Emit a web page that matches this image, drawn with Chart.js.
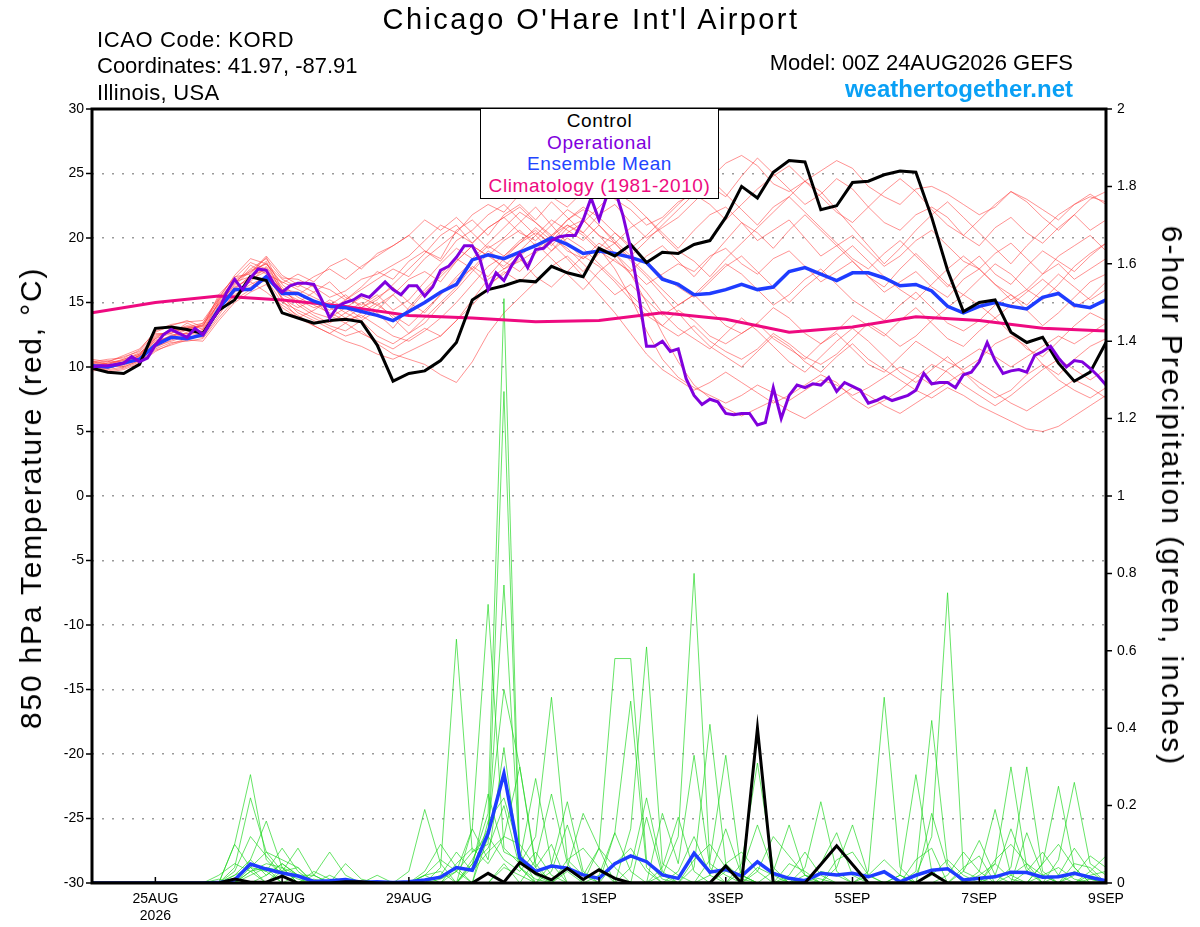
<!DOCTYPE html>
<html>
<head>
<meta charset="utf-8">
<script src="https://cdn.jsdelivr.net/npm/chart.js@4.4.1/dist/chart.umd.min.js"></script>
<style>
body { margin: 0; background: #fff; font-family: "Liberation Sans", Arial, sans-serif; }
#wrap { position: relative; width: 1200px; height: 927px; overflow: hidden; }
#wrap canvas { position: absolute; left: 0; top: 0; }
.t { position: absolute; white-space: nowrap; color: #000; }
#legend { position: absolute; left: 480px; top: 108px; width: 237px; height: 88px; background: #fff;
  border: 1.5px solid #000; text-align: center; font-size: 19px; line-height: 21.5px; letter-spacing: 0.6px; padding-top: 1px; }
</style>
</head>
<body>
<div id="wrap">
  <canvas id="chart" width="1200" height="927"></canvas>
  <div class="t" style="left:0;width:1182px;text-align:center;top:3px;font-size:29px;line-height:32px;letter-spacing:2.4px;">Chicago O'Hare Int'l Airport</div>
  <div class="t" style="left:97px;top:28px;font-size:22px;line-height:24px;letter-spacing:0.6px;">ICAO Code: KORD</div>
  <div class="t" style="left:97px;top:54px;font-size:22px;line-height:24px;">Coordinates: 41.97, -87.91</div>
  <div class="t" style="left:97px;top:81px;font-size:22px;line-height:24px;letter-spacing:0.3px;">Illinois, USA</div>
  <div class="t" style="right:127px;top:51px;font-size:22px;line-height:24px;">Model: 00Z 24AUG2026 GEFS</div>
  <div class="t" style="right:127px;top:75px;font-size:24px;line-height:28px;font-weight:bold;color:#0aa0f5;">weathertogether.net</div>
  <div class="t" style="left:31px;top:498px;transform:translate(-50%,-50%) rotate(-90deg);font-size:30px;letter-spacing:1.8px;">850 hPa Temperature (red, °C)</div>
  <div class="t" style="left:1172px;top:496px;transform:translate(-50%,-50%) rotate(90deg);font-size:30px;letter-spacing:2px;">6-hour Precipitation (green, inches)</div>
  <div id="legend">
    <div style="color:#000">Control</div>
    <div style="color:#8000dd">Operational</div>
    <div style="color:#2244ff">Ensemble Mean</div>
    <div style="color:#ee0a80">Climatology (1981-2010)</div>
  </div>
</div>
<script>
// forecast hours run 0..384 (00Z 24AUG to 00Z 9SEP); members are 6-hourly, operational 3-hourly
const tickHours = [24, 72, 120, 192, 240, 288, 336, 384];
const tickLabels = [['25AUG', '2026'], '27AUG', '29AUG', '1SEP', '3SEP', '5SEP', '7SEP', '9SEP'];

// 850 hPa temperature (C)
const controlTemp = [9.9,9.6,9.5,10.2,13.0,13.1,12.9,12.6,14.4,15.2,17.0,16.7,14.2,13.8,13.4,13.6,13.7,13.5,11.7,8.9,9.5,9.7,10.5,11.9,15.2,16.0,16.3,16.7,16.6,17.8,17.3,17.0,19.2,18.6,19.5,18.1,18.9,18.8,19.5,19.8,21.6,24.0,23.1,25.1,26.0,25.9,22.2,22.5,24.3,24.4,24.9,25.2,25.1,21.6,17.5,14.3,15.0,15.2,12.7,11.9,12.3,10.3,8.9,9.6,11.9];
const meanTemp = [10.1,10.0,10.3,10.6,11.7,12.3,12.2,12.5,14.5,16.0,16.0,17.0,15.7,15.7,15.1,14.7,14.6,14.3,14.0,13.6,14.3,15.0,15.8,16.4,18.3,18.7,18.4,18.9,19.4,20.0,19.5,18.8,19.0,18.8,18.5,18.1,16.8,16.4,15.6,15.7,16.0,16.4,16.0,16.2,17.4,17.7,17.2,16.7,17.3,17.3,16.9,16.3,16.4,15.9,14.7,14.2,14.7,15.0,14.7,14.5,15.4,15.7,14.8,14.6,15.2];
const operTemp = [10.0,10.1,10.1,10.2,10.3,10.8,10.4,10.7,11.7,12.5,
  12.9,12.6,12.3,13.0,12.5,13.5,14.4,15.8,16.8,16.0,
  16.9,17.6,17.5,16.4,15.8,16.3,16.5,16.5,16.4,15.2,
  13.8,14.7,15.0,15.2,15.6,15.4,16.0,16.6,16.0,15.6,
  16.3,16.3,15.5,16.2,17.5,17.8,18.5,19.4,19.4,18.3,
  16.0,17.3,16.7,17.9,18.8,17.7,19.1,19.2,19.8,20.1,
  20.2,20.2,21.4,23.1,21.4,23.3,23.8,21.8,19.2,15.7,
  11.6,11.6,12.0,11.2,11.4,9.1,7.8,7.1,7.5,7.3,
  6.4,6.3,6.4,6.4,5.5,5.7,8.4,6.0,7.8,8.6,
  8.4,8.7,8.6,9.2,8.1,8.8,8.5,8.2,7.2,7.4,
  7.7,7.4,7.6,7.8,8.2,9.5,8.7,8.8,8.8,8.4,
  9.4,9.6,10.4,11.9,10.5,9.5,9.7,9.8,9.6,10.9,
  11.2,11.6,10.7,10.0,10.5,10.4,9.9,9.3,8.6];
// daily climatology
const climTemp = [14.2,15.0,15.5,15.2,14.7,14.0,13.8,13.5,13.6,14.2,13.7,12.7,13.1,13.9,13.6,13.0,12.8];

const r01 = [10.0,10.1,10.4,10.9,12.4,12.8,13.2,13.0,15.0,16.5,17.6,18.4,16.9,16.8,16.2,15.4,15.9,16.8,17.2,17.9,18.6,19.8,21.0,20.4,21.8,22.6,22.0,23.4,24.0,23.2,22.4,23.6,24.2,23.0,22.2,21.0,21.6,22.8,23.4,24.6,25.8,26.4,25.6,24.2,23.6,24.4,25.2,26.0,25.4,24.0,23.2,22.6,23.8,24.0,23.4,22.6,21.8,22.4,23.6,23.0,22.2,21.4,22.6,23.2,22.8];
const r02 = [10.5,10.2,10.6,11.0,12.2,13.0,12.8,13.4,15.4,17.0,17.2,18.5,15.9,15.6,16.4,16.0,15.2,16.2,17.4,16.8,18.2,19.0,18.4,20.6,21.4,20.2,21.8,22.6,21.4,22.8,21.6,20.4,21.8,22.6,21.2,20.0,20.8,21.6,22.8,24.0,23.2,24.8,26.2,25.0,23.8,22.6,23.4,24.6,23.8,22.4,21.2,20.6,21.8,22.4,21.6,20.2,19.4,20.8,21.6,20.4,19.6,20.8,21.8,20.6,21.4];
const r03 = [10.2,10.4,10.8,11.2,12.6,12.6,13.4,12.9,14.8,16.4,17.9,17.2,16.6,16.0,15.4,14.8,15.6,14.6,15.2,16.4,17.6,18.8,20.2,21.0,19.6,20.8,21.6,20.4,19.8,21.0,22.2,21.4,20.2,19.6,20.8,21.6,20.4,19.2,20.6,21.8,22.4,21.2,19.8,20.6,21.4,20.0,18.6,19.4,20.2,19.0,17.8,18.6,19.8,20.6,19.4,18.2,17.6,18.8,19.6,18.4,17.2,18.6,19.4,20.2,19.0];
const r04 = [10.3,10.0,10.2,10.6,11.8,12.5,12.6,12.9,14.6,16.2,16.8,17.4,15.8,15.2,14.6,15.0,14.2,13.6,14.4,15.6,16.8,17.4,16.6,18.2,19.4,18.6,19.8,20.6,19.4,20.2,19.0,18.4,19.6,18.8,17.6,16.4,17.2,18.0,17.4,18.6,19.2,18.0,17.2,18.4,19.0,17.8,16.6,17.4,18.2,17.0,15.8,16.6,17.4,16.2,15.4,16.8,17.6,16.4,15.2,16.0,17.2,18.0,16.8,17.6,18.4];
const r05 = [9.8,9.9,10.2,10.8,11.6,12.0,12.4,12.3,14.0,15.8,16.6,17.8,16.2,14.8,14.0,13.4,14.2,15.0,14.2,13.0,14.6,16.0,17.2,18.4,17.6,19.0,18.2,17.4,18.8,20.0,19.2,18.0,16.8,15.6,16.4,15.2,14.0,14.8,15.6,16.8,18.0,17.2,16.0,14.8,15.6,16.8,17.6,16.4,15.2,14.4,13.6,14.8,15.8,14.6,13.4,12.8,13.6,14.8,15.6,14.4,13.2,14.2,15.4,16.6,17.2];
const r06 = [10.1,9.7,9.9,10.4,11.4,11.9,12.0,12.2,13.8,15.2,16.0,16.8,15.0,14.4,13.8,13.2,12.8,13.6,12.4,11.8,12.6,13.8,15.0,16.2,17.8,17.0,18.4,19.6,20.8,19.8,21.0,20.2,19.0,18.2,17.4,18.6,19.4,18.2,17.0,18.4,19.8,21.2,20.4,19.2,20.6,21.8,20.6,19.4,18.2,17.0,16.2,17.6,18.8,17.6,16.4,15.6,16.8,18.0,17.2,16.0,15.2,16.4,17.8,18.8,19.6];
const r07 = [10.4,10.2,10.0,10.5,11.9,12.3,12.9,12.6,14.2,15.6,16.4,17.0,15.4,14.2,13.6,13.0,12.4,12.8,11.8,11.0,10.6,10.2,9.4,8.8,10.4,12.6,14.2,15.4,16.6,17.8,18.6,17.4,18.8,19.6,18.4,17.2,16.0,14.8,15.6,14.4,13.2,12.6,13.4,14.6,13.8,12.6,11.8,12.8,14.0,13.2,12.4,13.6,14.6,13.4,12.2,11.6,12.8,13.8,12.6,11.4,10.8,12.0,13.2,14.2,13.6];
const r08 = [9.9,9.6,9.8,10.3,11.2,11.8,12.2,12.4,14.4,15.9,16.6,15.8,14.8,14.0,13.2,12.6,12.0,11.6,11.0,10.6,11.2,11.8,12.4,13.6,15.2,16.8,17.6,18.2,19.0,20.2,21.0,20.4,19.2,17.6,15.4,12.8,10.6,9.2,8.4,7.8,7.2,7.8,8.6,8.0,7.4,8.2,9.0,8.6,7.8,8.4,9.2,10.0,9.4,8.6,9.8,10.6,11.4,10.8,10.0,10.8,11.6,12.4,11.8,12.6,13.4];
const r09 = [10.0,10.3,10.6,11.1,12.0,12.4,13.0,13.2,15.2,16.8,17.4,18.0,16.4,15.4,14.8,14.2,13.6,14.0,13.2,12.4,12.0,12.8,13.8,15.0,16.4,17.8,18.6,19.8,20.6,19.4,20.8,21.4,20.2,18.8,17.2,15.0,12.6,10.4,8.6,7.6,6.8,6.2,6.8,7.4,6.6,6.0,6.8,7.6,8.4,7.8,7.0,6.4,7.2,8.0,8.8,9.6,8.8,8.0,7.2,6.6,7.4,8.2,9.0,8.4,7.6];
const r10 = [10.6,10.4,10.9,11.4,12.7,13.2,13.6,13.1,15.6,16.9,18.1,17.6,15.2,13.8,14.4,15.2,14.6,13.8,14.8,15.6,14.4,15.8,17.0,18.2,19.4,18.6,17.8,19.0,20.2,21.4,20.6,19.8,21.0,19.6,18.2,17.0,15.6,14.2,12.8,11.6,10.8,10.0,11.2,12.4,11.6,10.4,9.6,10.8,11.8,10.6,9.8,9.0,8.2,7.6,8.4,7.8,7.0,6.4,5.8,5.2,5.0,5.4,6.2,7.0,7.8];
const r11 = [10.2,10.0,10.4,10.7,12.1,12.2,12.7,13.3,14.9,16.1,17.0,18.2,15.6,15.0,15.8,14.6,13.8,14.6,15.4,16.2,15.0,14.2,15.6,16.8,17.6,16.4,17.2,18.4,17.0,16.2,17.4,18.6,17.8,16.6,15.2,14.0,13.2,14.4,13.6,12.4,11.8,12.6,13.4,12.2,11.4,10.6,11.8,12.6,11.4,10.2,9.6,10.8,12.0,11.2,10.4,9.8,10.6,11.8,12.4,11.6,10.2,9.4,10.6,11.6,12.2];
const r12 = [10.3,10.5,10.3,10.9,12.3,12.9,13.1,12.7,15.1,16.7,17.3,18.6,17.1,16.4,15.8,16.6,15.4,14.8,15.6,14.4,15.2,16.6,18.0,19.2,18.4,19.6,20.8,22.0,21.2,20.0,21.4,22.4,21.6,20.4,19.2,20.2,21.4,22.6,23.8,24.6,23.4,22.2,21.0,22.4,23.2,22.0,20.8,19.6,18.4,17.6,18.8,19.8,18.6,17.4,16.2,17.6,18.6,17.2,16.4,17.8,19.0,18.2,17.4,18.6,19.6];
const r13 = [10.1,10.3,10.5,11.0,12.5,12.7,13.0,13.2,14.9,16.3,17.5,18.0,16.5,17.2,16.6,17.8,18.4,17.6,18.8,19.4,20.2,19.0,18.2,19.8,20.6,21.8,22.6,21.4,20.2,19.0,20.4,21.2,22.4,23.6,22.8,21.6,20.2,19.0,18.2,17.0,18.4,19.6,20.8,22.0,23.2,24.4,23.6,22.2,20.8,19.4,18.0,19.2,20.6,21.8,22.8,21.6,20.4,19.2,18.0,19.4,20.6,21.8,22.6,23.4,22.6];
const r14 = [9.9,10.0,10.1,10.6,11.5,12.1,12.5,12.8,14.3,15.5,16.2,17.1,15.3,14.6,15.2,14.0,13.4,14.2,15.0,13.8,12.6,13.4,14.8,16.0,17.4,18.8,17.6,18.6,19.6,18.4,17.2,16.0,17.4,18.4,17.2,15.8,14.2,13.0,12.2,11.4,12.6,13.8,12.8,11.6,10.4,9.6,10.8,12.0,13.0,12.0,10.8,9.6,8.8,9.8,10.8,9.6,8.4,7.6,8.2,9.4,10.2,9.0,8.2,7.6,8.4];
const r15 = [10.4,10.6,10.7,11.3,12.8,13.3,13.5,13.6,15.3,17.1,18.4,18.0,16.8,16.2,17.0,17.6,16.8,17.8,18.6,19.4,20.2,21.4,20.6,21.6,20.4,19.2,20.0,21.2,22.4,21.0,19.6,18.4,19.2,20.4,19.4,18.2,17.0,16.2,15.4,16.6,17.8,18.6,17.4,16.2,15.0,16.2,17.2,18.4,19.4,18.2,17.0,16.0,15.2,16.4,17.6,18.6,17.6,16.4,15.6,14.8,16.0,17.2,16.2,15.2,16.0];
const r16 = [9.7,9.8,10.0,10.5,11.3,11.7,12.1,12.0,13.6,15.0,15.8,16.4,14.6,13.8,13.2,12.6,13.4,12.6,12.0,11.4,12.2,13.0,12.4,13.6,14.8,16.2,17.4,16.6,17.8,19.0,20.0,19.2,18.0,16.8,15.6,14.4,13.2,12.4,13.2,12.0,11.2,10.6,11.4,12.6,11.8,10.8,10.2,11.0,12.2,13.4,12.6,11.6,12.4,13.6,14.6,15.6,14.8,13.8,14.8,15.8,16.8,15.8,14.6,15.4,16.6];
const r17 = [10.2,10.2,10.5,10.8,12.2,12.6,13.1,13.4,15.2,16.6,17.0,17.7,16.0,15.8,15.0,14.4,15.2,16.0,16.8,17.6,17.0,18.4,19.4,20.4,19.6,20.8,21.6,22.4,21.2,20.2,21.4,22.2,21.0,19.8,18.6,19.8,21.0,22.2,23.4,22.6,21.4,22.6,23.8,24.8,25.6,24.4,23.2,22.0,21.2,22.4,23.6,24.6,23.6,22.2,21.0,20.2,21.4,22.6,23.6,22.8,21.6,20.6,21.8,23.0,23.6];
const r18 = [10.0,9.9,10.3,10.9,11.9,12.4,12.6,12.5,14.7,16.0,17.1,17.5,16.0,15.0,14.2,13.8,14.6,15.4,14.8,14.0,13.2,14.4,15.6,17.0,18.2,19.4,18.6,19.6,20.4,19.6,18.4,17.0,15.6,14.2,12.6,11.0,9.8,9.0,8.2,8.8,9.6,8.8,8.0,7.2,7.8,8.6,9.4,8.8,7.6,6.8,7.4,8.2,9.2,10.2,9.6,8.6,7.8,7.0,7.8,8.8,9.8,10.6,9.8,9.0,9.8];

// 6-hour precipitation (inches)
const controlPrecip = [0,0,0,0,0,0,0,0,0,0.01, 0.002,0.002,0.018,0,0,0,0.003,0.003,0,0, 0,0,0,0,0,0.025,0.002,0.053,0.025,0.008, 0.038,0.009,0.034,0.012,0,0,0,0,0,0, 0.044,0,0.40,0,0,0,0.048,0.096,0.048,0, 0,0,0,0.025,0,0,0,0,0,0, 0,0,0,0,0];
const meanPrecip = [0,0,0,0,0,0,0,0,0.001,0.008, 0.049,0.036,0.026,0.018,0.004,0.006,0.009,0.002,0.003,0.001, 0.003,0.008,0.015,0.04,0.033,0.128,0.283,0.065,0.03,0.044, 0.038,0.021,0.012,0.05,0.07,0.055,0.021,0.012,0.077,0.028, 0.035,0.018,0.055,0.025,0.012,0.006,0.025,0.021,0.025,0.016, 0.029,0.003,0.02,0.033,0.037,0.008,0.012,0.016,0.028,0.027, 0.015,0.016,0.025,0.015,0.006];

const g01 = [0,0,0,0,0,0,0,0,0,0.10, 0.28,0.06,0.02,0,0.01,0,0,0,0,0, 0,0.02,0,0,0.05,0.18,1.51,0.06,0.02,0, 0.03,0,0,0,0,0,0.02,0.12,0.80,0.05, 0.02,0,0,0,0.01,0,0,0,0,0.03, 0.48,0.04,0,0,0,0,0.02,0.05,0.01,0, 0,0,0.03,0.01,0];
const g02 = [0,0,0,0,0,0,0,0,0,0.04, 0.22,0.08,0.03,0.01,0,0,0,0,0,0, 0,0,0.01,0.03,0.08,0.10,1.27,0.04,0.01,0, 0,0,0.09,0.58,0.58,0.06,0.01,0,0,0, 0.03,0.02,0,0,0,0.02,0.01,0,0,0, 0,0,0.02,0.12,0.75,0.03,0.01,0,0,0, 0.02,0.04,0.01,0,0];
const g03 = [0,0,0,0,0,0,0,0,0.01,0, 0.05,0.03,0,0.02,0.02,0,0,0,0,0, 0,0,0.04,0.63,0.08,0.12,0.77,0.06,0.03,0, 0,0,0,0,0.14,0.61,0.05,0.02,0,0, 0,0,0.04,0.02,0,0,0.03,0.02,0,0, 0,0,0,0,0,0,0,0.05,0.30,0.04, 0,0,0,0.02,0.03];
const g04 = [0,0,0,0,0,0,0,0,0,0, 0.03,0,0.04,0.02,0,0,0,0,0,0, 0,0,0,0,0.14,0.72,0.09,0.05,0.12,0.48, 0.06,0.02,0,0,0,0,0,0,0.04,0.41, 0.05,0.01,0,0,0,0.01,0,0,0,0, 0,0,0.03,0.42,0.05,0,0,0,0.04,0.30, 0.03,0,0,0.01,0];
const g05 = [0,0,0,0,0,0,0,0,0,0.02, 0.06,0.16,0.04,0,0,0,0,0,0,0, 0.03,0.19,0.05,0,0,0,0.04,0.02,0,0, 0,0,0,0.13,0.47,0.04,0,0,0,0.06, 0.33,0.02,0,0,0,0,0,0,0,0, 0,0.02,0.28,0.03,0,0,0,0,0,0, 0.05,0.25,0.04,0,0];
const g06 = [0,0,0,0,0,0,0,0,0,0, 0,0.02,0.05,0.02,0,0,0,0,0,0, 0,0,0,0,0.06,0.14,0.50,0.30,0.04,0, 0,0,0,0,0.04,0.22,0.03,0,0,0, 0,0.05,0.31,0.04,0,0,0,0,0,0, 0,0,0,0,0,0,0.03,0.19,0.02,0, 0,0.06,0.26,0.05,0.02];
const g07 = [0,0,0,0,0,0,0,0,0,0.10, 0.04,0.03,0.09,0.03,0,0,0,0,0,0, 0,0,0,0,0.04,0.23,0.08,0.06,0.27,0.05, 0,0,0,0,0,0,0.18,0.05,0.33,0.04, 0,0,0,0,0,0.04,0.21,0.03,0,0, 0,0,0,0,0,0,0,0.02,0.14,0.03, 0,0,0,0,0];
const g08 = [0,0,0,0,0,0,0,0,0,0, 0.02,0.04,0.03,0.09,0.02,0,0,0,0,0, 0,0,0,0.03,0.14,0.06,0.35,0.04,0,0.05, 0.21,0.03,0,0,0,0.17,0.02,0,0,0, 0,0,0,0.03,0.15,0.02,0,0,0,0, 0,0,0,0.18,0.04,0,0,0,0,0.13, 0.02,0,0,0,0];
const g09 = [0,0,0,0,0,0,0,0,0,0, 0.03,0.05,0.04,0,0.02,0.08,0.02,0,0,0, 0,0.03,0.10,0.04,0,0,0.05,0,0.06,0.23, 0.05,0,0.02,0.13,0.03,0,0,0,0,0.02, 0.14,0.02,0,0,0,0,0,0.04,0.15,0.02, 0,0,0,0,0,0.03,0.11,0.02,0,0, 0,0.02,0.09,0.03,0];
const g10 = [0,0,0,0,0,0,0,0,0,0.02, 0.04,0,0.03,0.04,0,0,0.05,0.01,0,0, 0,0,0.02,0.08,0.03,0.08,0.12,0.30,0.05,0, 0.04,0.18,0.09,0,0,0,0.04,0.17,0.03,0, 0,0.03,0.15,0.03,0,0,0.05,0.13,0.02,0, 0,0,0,0,0.02,0.08,0.03,0,0,0, 0,0,0.02,0.07,0.04];
const g11 = [0,0,0,0,0,0,0,0,0,0, 0.06,0.02,0.05,0.02,0,0,0,0,0.02,0, 0,0,0,0,0.05,0.09,0.20,0.04,0,0.03, 0.15,0.02,0.09,0.04,0,0,0,0,0,0, 0,0,0.03,0.12,0.07,0.02,0,0,0,0.02, 0.06,0.02,0,0,0,0,0,0,0,0.03, 0.08,0.02,0,0.03,0.07];
const g12 = [0,0,0,0,0,0,0,0,0.02,0.05, 0.03,0.04,0,0,0.03,0.01,0,0,0,0, 0,0.02,0.03,0,0,0.12,0.06,0.03,0.08,0.02, 0,0,0,0,0,0,0,0.03,0.12,0.02, 0,0,0,0,0.02,0.08,0.02,0,0,0, 0,0.02,0,0.02,0.06,0.02,0,0,0.02,0.05, 0.02,0,0,0,0];
const g13 = [0,0,0,0,0,0,0,0,0,0.03, 0.12,0.07,0.02,0,0,0,0,0,0,0, 0,0.02,0.06,0.03,0,0.16,0.22,0.08,0,0, 0.06,0.09,0.04,0,0,0,0,0,0.06,0.10, 0.04,0,0,0,0.05,0.03,0,0,0,0, 0,0,0.06,0.09,0,0,0,0.06,0.10,0.05, 0,0,0.05,0.04,0];
const g14 = [0,0,0,0,0,0,0,0,0,0, 0.04,0.08,0.06,0.04,0,0.02,0,0,0,0, 0,0,0,0.05,0.09,0.05,0.12,0.10,0.04,0.10, 0,0,0,0.05,0.09,0.03,0,0,0,0, 0.05,0.08,0.03,0,0,0,0,0.06,0.08,0.02, 0,0,0,0,0,0.04,0.07,0,0,0, 0.05,0.10,0.04,0,0];

const redMembers = [r01, r02, r03, r04, r05, r06, r07, r08, r09, r10, r11, r12, r13, r14, r15, r16, r17, r18];
const greenMembers = [g01, g02, g03, g04, g05, g06, g07, g08, g09, g10, g11, g12, g13, g14];

function pts(values, step) {
    return values.map((v, i) => ({x: i * step, y: v}));
}

const datasets = [];
redMembers.forEach(m => {
    datasets.push({data: pts(m, 6), yAxisID: 'y', borderColor: 'rgba(255,60,60,0.7)', borderWidth: 0.8, order: 6});
});
greenMembers.forEach(m => {
    datasets.push({data: pts(m, 6), yAxisID: 'y1', borderColor: 'rgba(30,215,30,0.85)', borderWidth: 0.8, order: 5});
});
datasets.push({data: pts(climTemp, 24), yAxisID: 'y', borderColor: '#ee0a80', borderWidth: 3, order: 4});
datasets.push({data: pts(meanTemp, 6), yAxisID: 'y', borderColor: '#1e3cff', borderWidth: 3.5, order: 3});
datasets.push({data: pts(meanPrecip, 6), yAxisID: 'y1', borderColor: '#1e3cff', borderWidth: 3.5, order: 3});
datasets.push({data: pts(controlTemp, 6), yAxisID: 'y', borderColor: '#000', borderWidth: 3, order: 2});
datasets.push({data: pts(controlPrecip, 6), yAxisID: 'y1', borderColor: '#000', borderWidth: 3, order: 2});
datasets.push({data: pts(operTemp, 3), yAxisID: 'y', borderColor: '#8000dd', borderWidth: 3, order: 1});

// frame and tick marks
const frameTicks = {
    id: 'frameTicks',
    afterDatasetsDraw(chart) {
        const {ctx, chartArea: a, scales} = chart;
        ctx.save();
        ctx.strokeStyle = '#000';
        ctx.lineWidth = 1.5;
        ctx.beginPath();
        scales.y.ticks.forEach(t => {
            const p = scales.y.getPixelForValue(t.value);
            ctx.moveTo(a.left - 6, p); ctx.lineTo(a.left, p);
        });
        scales.y1.ticks.forEach(t => {
            const p = scales.y1.getPixelForValue(t.value);
            ctx.moveTo(a.right, p); ctx.lineTo(a.right + 6, p);
        });
        scales.x.ticks.forEach(t => {
            const p = scales.x.getPixelForValue(t.value);
            ctx.moveTo(p, a.bottom); ctx.lineTo(p, a.bottom - 6);
        });
        ctx.stroke();
        ctx.lineWidth = 3;
        ctx.strokeRect(a.left, a.top, a.right - a.left, a.bottom - a.top);
        ctx.restore();
    }
};

const tickFont = {family: '"Liberation Sans", Arial, sans-serif', size: 14};

new Chart(document.getElementById('chart'), {
    type: 'line',
    data: {datasets: datasets},
    options: {
        responsive: false,
        devicePixelRatio: 1,
        animation: false,
        layout: {padding: {top: 109, left: 0, right: 0, bottom: 0}},
        elements: {point: {radius: 0}, line: {tension: 0}},
        plugins: {legend: {display: false}, tooltip: {enabled: false}},
        scales: {
            x: {
                type: 'linear', min: 0, max: 384,
                afterBuildTicks: scale => { scale.ticks = tickHours.map(v => ({value: v})); },
                afterFit: scale => { scale.height = 44; },
                ticks: {
                    autoSkip: false, maxRotation: 0, minRotation: 0, padding: 0, color: '#000',
                    font: {family: '"Liberation Sans", Arial, sans-serif', size: 14},
                    callback: (v, i) => tickLabels[i]
                },
                grid: {display: false},
                border: {display: false}
            },
            y: {
                position: 'left', min: -30, max: 30,
                afterFit: scale => { scale.width = 92; },
                ticks: {stepSize: 5, padding: 8, color: '#000', font: tickFont},
                grid: {color: '#9a9a9a', lineWidth: 1.5, drawTicks: false},
                border: {display: false, dash: [2, 8]}
            },
            y1: {
                position: 'right', min: 0, max: 2,
                afterFit: scale => { scale.width = 94; },
                ticks: {stepSize: 0.2, padding: 11, color: '#000', font: tickFont,
                    callback: v => String(Math.round(v * 10) / 10)},
                grid: {drawOnChartArea: false, drawTicks: false},
                border: {display: false}
            }
        }
    },
    plugins: [frameTicks]
});
</script>
</body>
</html>
